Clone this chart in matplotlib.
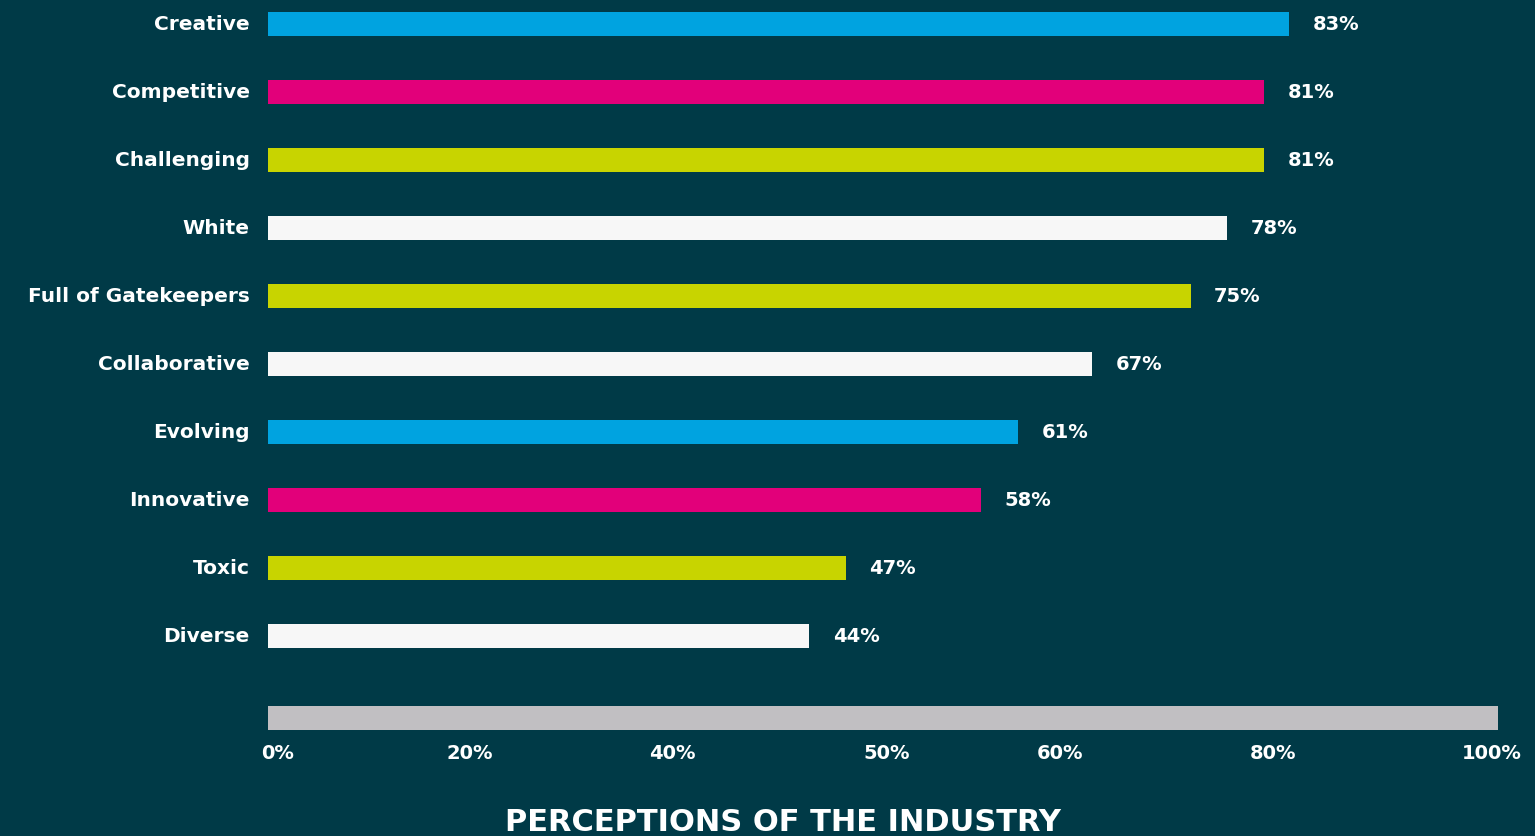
import numpy as np
import matplotlib
matplotlib.use('Agg')
import matplotlib.pyplot as plt

# Data
labels = ['Creative', 'Competitive', 'Challenging', 'White', 'Full of Gatekeepers',
          'Collaborative', 'Evolving', 'Innovative', 'Toxic', 'Diverse']
values = [83, 81, 81, 78, 75, 67, 61, 58, 47, 44]
colors = ['#00a3e0', '#e2007a', '#c8d400', '#f7f7f7', '#c8d400',
          '#f7f7f7', '#00a3e0', '#e2007a', '#c8d400', '#f7f7f7']
tick_labels = ['0%', '20%', '40%', '50%', '60%', '80%', '100%']
tick_pos = [0.8, 16.4, 32.9, 50.3, 64.4, 81.7, 99.5]  # where the labels sit (they are not to scale)

bg = '#003a47'
W, H = 1535, 837
fig = plt.figure(figsize=(W / 100, H / 100), dpi=100, facecolor=bg)

# axes spans the bar area horizontally, whole figure vertically
left, right = 268, 1498
ax = fig.add_axes([left / W, 0, (right - left) / W, 1])
ax.set_facecolor(bg)
ax.set_xlim(0, 100)
top_px, step_px = 25, 68
ax.set_ylim((H - top_px) / step_px, -top_px / step_px)
ax.axis('off')

font = 'DejaVu Sans'
y = np.arange(len(labels))
ax.barh(y, values, height=24 / step_px, color=colors)

for yi, lab, v in zip(y, labels, values):
    ax.text(-1.5, yi, lab, ha='right', va='center', color='white',
            fontsize=14.5, fontweight='bold', family=font)
    ax.text(v + 1.9, yi, f'{v}%', ha='left', va='center', color='white',
            fontsize=14, fontweight='bold', family=font)

# full-scale grey bar
y_scale = len(labels) + 0.2
ax.barh(y_scale, 100, height=24 / step_px, color='#c1bfc2')
for p, t in zip(tick_pos, tick_labels):
    ax.text(p, y_scale + 0.52, t, ha='center', va='center', color='white',
            fontsize=14, fontweight='bold', family=font)

fig.text(783 / W, 1 - 823 / H, 'PERCEPTIONS OF THE INDUSTRY', ha='center', va='center',
         color='white', fontsize=22, fontweight='bold', family=font)

fig.savefig('out.png', dpi=100, facecolor=bg)
